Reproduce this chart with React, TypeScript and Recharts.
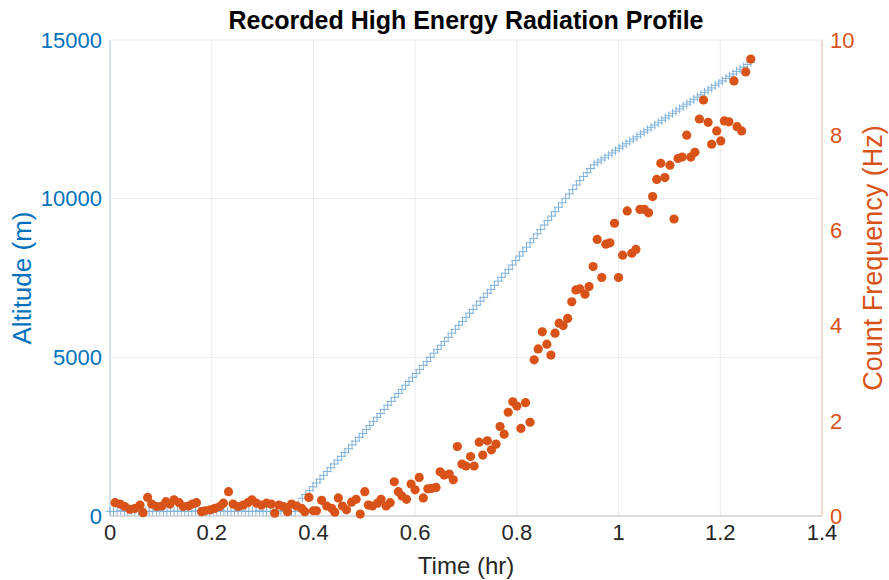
import { ComposedChart, Scatter, XAxis, YAxis, CartesianGrid } from 'recharts'

// altitude log (hr, m)
const altTime = [
  0, 0.007, 0.014, 0.021, 0.028, 0.035, 0.042, 0.049, 0.056, 0.063,
  0.07, 0.077, 0.084, 0.091, 0.098, 0.105, 0.112, 0.119, 0.126, 0.133,
  0.14, 0.147, 0.154, 0.161, 0.168, 0.175, 0.182, 0.189, 0.196, 0.203,
  0.21, 0.217, 0.224, 0.231, 0.238, 0.245, 0.252, 0.259, 0.266, 0.273,
  0.28, 0.287, 0.294, 0.301, 0.308, 0.315, 0.322, 0.329, 0.336, 0.343,
  0.35, 0.357, 0.364, 0.371, 0.378, 0.385, 0.392, 0.399, 0.406, 0.413,
  0.42, 0.427, 0.434, 0.441, 0.448, 0.455, 0.462, 0.469, 0.476, 0.483,
  0.49, 0.497, 0.504, 0.511, 0.518, 0.525, 0.532, 0.539, 0.546, 0.553,
  0.56, 0.567, 0.574, 0.581, 0.588, 0.595, 0.602, 0.609, 0.616, 0.623,
  0.63, 0.637, 0.644, 0.651, 0.658, 0.665, 0.672, 0.679, 0.686, 0.693,
  0.7, 0.707, 0.714, 0.721, 0.728, 0.735, 0.742, 0.749, 0.756, 0.763,
  0.77, 0.777, 0.784, 0.791, 0.798, 0.805, 0.812, 0.819, 0.826, 0.833,
  0.84, 0.847, 0.854, 0.861, 0.868, 0.875, 0.882, 0.889, 0.896, 0.903,
  0.91, 0.917, 0.924, 0.931, 0.938, 0.945, 0.952, 0.959, 0.966, 0.973,
  0.98, 0.987, 0.994, 1.001, 1.008, 1.015, 1.022, 1.029, 1.036, 1.043,
  1.05, 1.057, 1.064, 1.071, 1.078, 1.085, 1.092, 1.099, 1.106, 1.113,
  1.12, 1.127, 1.134, 1.141, 1.148, 1.155, 1.162, 1.169, 1.176, 1.183,
  1.19, 1.197, 1.204, 1.211, 1.218, 1.225, 1.232, 1.239, 1.246, 1.253,
  1.26,
]
const altitude = [
  150, 140, 150, 160, 150, 140, 150, 150, 160, 150,
  150, 140, 150, 150, 160, 150, 140, 150, 150, 150,
  150, 150, 140, 150, 160, 150, 150, 140, 150, 150,
  150, 160, 150, 140, 150, 150, 150, 160, 150, 140,
  150, 150, 160, 150, 140, 150, 150, 150, 160, 150,
  150, 140, 150, 350, 560, 680, 800, 920, 1040, 1160,
  1280, 1400, 1520, 1640, 1760, 1880, 2000, 2120, 2240, 2360,
  2480, 2600, 2730, 2850, 2980, 3110, 3230, 3360, 3490, 3610,
  3740, 3860, 3990, 4120, 4240, 4370, 4490, 4620, 4750, 4870,
  5000, 5130, 5250, 5380, 5500, 5630, 5760, 5880, 6010, 6130,
  6260, 6390, 6510, 6640, 6770, 6890, 7020, 7140, 7270, 7400,
  7520, 7650, 7770, 7910, 8050, 8190, 8330, 8470, 8610, 8750,
  8890, 9030, 9170, 9310, 9450, 9590, 9730, 9870, 10010, 10150,
  10290, 10430, 10570, 10700, 10820, 10950, 11070, 11150, 11220, 11290,
  11370, 11440, 11510, 11590, 11660, 11730, 11810, 11880, 11950, 12030,
  12100, 12170, 12250, 12320, 12390, 12470, 12540, 12610, 12690, 12760,
  12830, 12910, 12980, 13050, 13130, 13200, 13270, 13350, 13420, 13490,
  13570, 13640, 13710, 13790, 13860, 13930, 14010, 14080, 14150, 14230,
  14300,
]

// radiation counts (hr, Hz)
const countTime = [
  0.01, 0.02, 0.029, 0.039, 0.049, 0.059, 0.065, 0.074, 0.082, 0.092,
  0.102, 0.11, 0.118, 0.126, 0.136, 0.144, 0.154, 0.162, 0.17, 0.18,
  0.187, 0.197, 0.206, 0.216, 0.223, 0.233, 0.242, 0.252, 0.262, 0.271,
  0.279, 0.288, 0.298, 0.308, 0.317, 0.324, 0.332, 0.341, 0.349, 0.357,
  0.367, 0.377, 0.383, 0.391, 0.4, 0.406, 0.416, 0.426, 0.436, 0.442,
  0.449, 0.457, 0.465, 0.475, 0.484, 0.492, 0.501, 0.508, 0.516, 0.526,
  0.533, 0.543, 0.551, 0.559, 0.567, 0.574, 0.583, 0.592, 0.6, 0.608,
  0.616, 0.625, 0.632, 0.641, 0.649, 0.657, 0.667, 0.675, 0.683, 0.692,
  0.7, 0.709, 0.716, 0.726, 0.733, 0.742, 0.75, 0.759, 0.767, 0.775,
  0.783, 0.792, 0.8, 0.808, 0.817, 0.826, 0.834, 0.842, 0.85, 0.859,
  0.867, 0.875, 0.883, 0.891, 0.9, 0.908, 0.916, 0.924, 0.934, 0.942,
  0.95, 0.958, 0.967, 0.975, 0.983, 0.992, 1.0, 1.008, 1.017, 1.026,
  1.034, 1.042, 1.051, 1.059, 1.067, 1.075, 1.083, 1.091, 1.101, 1.109,
  1.117, 1.125, 1.134, 1.142, 1.15, 1.159, 1.167, 1.176, 1.183, 1.193,
  1.201, 1.208, 1.217, 1.227, 1.233, 1.242, 1.25, 1.26,
]
const countHz = [
  0.28, 0.25, 0.2, 0.14, 0.16, 0.23, 0.07, 0.39, 0.25, 0.2,
  0.21, 0.3, 0.25, 0.34, 0.28, 0.2, 0.21, 0.25, 0.28, 0.09,
  0.11, 0.13, 0.16, 0.2, 0.27, 0.51, 0.25, 0.2, 0.23, 0.28,
  0.34, 0.27, 0.23, 0.27, 0.25, 0.06, 0.23, 0.2, 0.09, 0.25,
  0.21, 0.16, 0.09, 0.39, 0.11, 0.11, 0.33, 0.21, 0.16, 0.08,
  0.38, 0.21, 0.13, 0.29, 0.35, 0.04, 0.51, 0.23, 0.21, 0.27,
  0.35, 0.21, 0.28, 0.72, 0.51, 0.42, 0.35, 0.67, 0.55, 0.81,
  0.38, 0.57, 0.58, 0.6, 0.93, 0.86, 0.88, 0.76, 1.46, 1.09,
  1.05, 1.25, 1.05, 1.55, 1.28, 1.58, 1.39, 1.51, 1.88, 1.72,
  2.18, 2.4, 2.31, 1.84, 2.38, 1.97, 3.28, 3.51, 3.87, 3.61,
  3.38, 3.84, 4.05, 4.0, 4.15, 4.5, 4.75, 4.77, 4.66, 4.82,
  5.24, 5.81, 5.01, 5.71, 5.74, 6.15, 5.01, 5.48, 6.41, 5.52,
  5.6, 6.44, 6.44, 6.37, 6.71, 7.07, 7.41, 7.11, 7.37, 6.24,
  7.51, 7.54, 8.0, 7.54, 7.64, 8.34, 8.74, 8.27, 7.81, 8.09,
  7.88, 8.3, 8.28, 9.14, 8.18, 8.09, 9.33, 9.6,
]

const timeTicks = [0, 0.2, 0.4, 0.6, 0.8, 1, 1.2, 1.4]
const altTicks = [0, 5000, 10000, 15000]
const hzTicks = [0, 2, 4, 6, 8, 10]

const altData = altTime.map((t, i) => ({ t, alt: altitude[i] }))
const hzData = countTime.map((t, i) => ({ t, hz: countHz[i] }))

const BLUE = '#0072BD'
const ORANGE = '#D95319'
const FONT = '"Liberation Sans", Arial, Helvetica, sans-serif'

// matlab style '+' marker
function PlusMark(props: any) {
  const { cx, cy } = props
  if (cx == null || cy == null) return null
  const s = 4.5
  return (
    <g stroke="#7fb1da" strokeWidth={1}>
      <line x1={cx - s} y1={cy} x2={cx + s} y2={cy} />
      <line x1={cx} y1={cy - s} x2={cx} y2={cy + s} />
    </g>
  )
}

function Dot(props: any) {
  const { cx, cy } = props
  if (cx == null || cy == null) return null
  return <circle cx={cx} cy={cy} r={4.6} fill={ORANGE} />
}

export default function App() {
  return (
    <div style={{ position: 'absolute', left: 0, top: 0, width: 889, height: 580, background: '#fff', fontFamily: FONT }}>
      <ComposedChart width={889} height={580} margin={{ top: 40, right: 17, bottom: 24, left: 50 }}>
        <CartesianGrid yAxisId="left" stroke="#ececec" ticks={altTicks} />
        <XAxis
          type="number"
          dataKey="t"
          domain={[0, 1.4]}
          ticks={timeTicks}
          height={40}
          tickLine={false}
          axisLine={{ stroke: '#c4c4c4' }}
          tick={{ fill: '#262626', fontSize: 22, fontFamily: FONT }}
        />
        <YAxis
          yAxisId="left"
          type="number"
          domain={[0, 15000]}
          ticks={altTicks}
          width={60}
          tickLine={false}
          axisLine={{ stroke: '#b3cde3' }}
          tick={{ fill: BLUE, fontSize: 22, fontFamily: FONT }}
        />
        <YAxis
          yAxisId="right"
          orientation="right"
          type="number"
          domain={[0, 10]}
          ticks={hzTicks}
          width={50}
          tickLine={false}
          axisLine={{ stroke: '#ebc3ad' }}
          tick={{ fill: ORANGE, fontSize: 22, fontFamily: FONT, textAnchor: 'start' }}
        />
        <Scatter yAxisId="left" data={altData} dataKey="alt" shape={<PlusMark />} isAnimationActive={false} />
        <Scatter yAxisId="right" data={hzData} dataKey="hz" shape={<Dot />} isAnimationActive={false} />
      </ComposedChart>
      <div style={{ position: 'absolute', left: 110, top: 5, width: 712, textAlign: 'center', fontSize: 25, fontWeight: 'bold', color: '#000', lineHeight: '30px' }}>
        Recorded High Energy Radiation Profile
      </div>
      <div style={{ position: 'absolute', left: 110, top: 552, width: 712, textAlign: 'center', fontSize: 24, color: '#262626', lineHeight: '28px' }}>
        Time (hr)
      </div>
      <div style={{ position: 'absolute', left: 22 - 100, top: 278 - 15, width: 200, textAlign: 'center', fontSize: 26, color: BLUE, lineHeight: '30px', transform: 'rotate(-90deg)' }}>
        Altitude (m)
      </div>
      <div style={{ position: 'absolute', left: 873 - 170, top: 258 - 16, width: 340, textAlign: 'center', fontSize: 27, color: ORANGE, lineHeight: '32px', transform: 'rotate(-90deg)' }}>
        Count Frequency (Hz)
      </div>
    </div>
  )
}
